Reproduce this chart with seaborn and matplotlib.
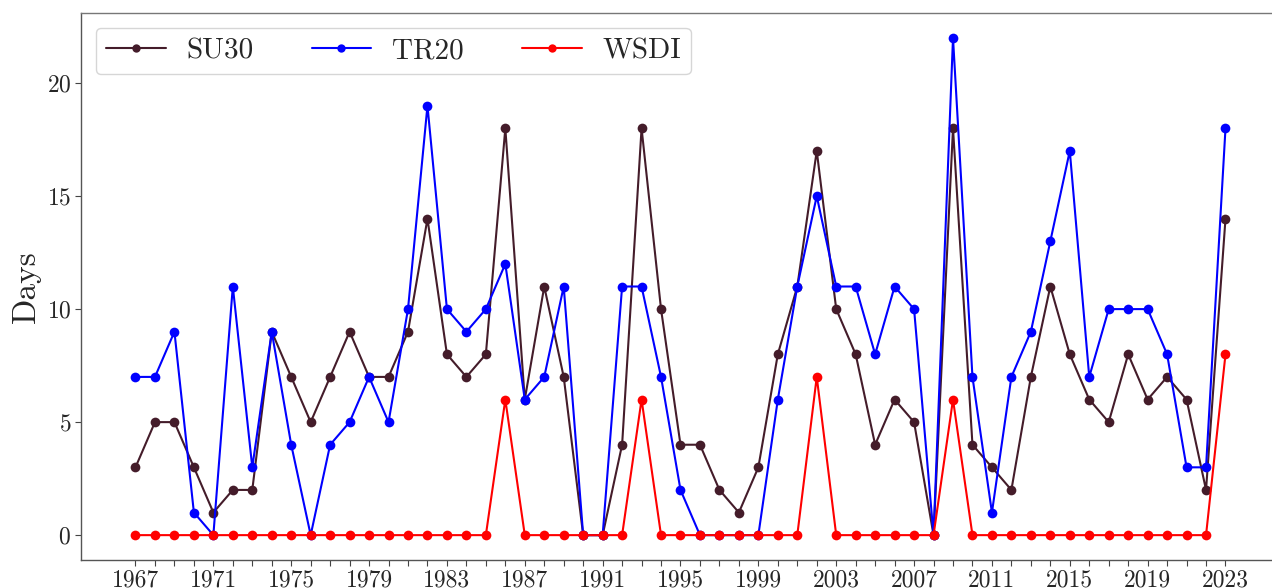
import numpy as np
import pandas as pd
import matplotlib
matplotlib.use("Agg")
import matplotlib.pyplot as plt
import seaborn as sns

years = list(range(1967, 2024))
su30 = [3, 5, 5, 3, 1, 2, 2, 9, 7, 5, 7, 9, 7, 7, 9, 14, 8, 7, 8, 18,
        6, 11, 7, 0, 0, 4, 18, 10, 4, 4, 2, 1, 3, 8, 11, 17, 10, 8, 4, 6,
        5, 0, 18, 4, 3, 2, 7, 11, 8, 6, 5, 8, 6, 7, 6, 2, 14]
tr20 = [7, 7, 9, 1, 0, 11, 3, 9, 4, 0, 4, 5, 7, 5, 10, 19, 10, 9, 10, 12,
        6, 7, 11, 0, 0, 11, 11, 7, 2, 0, 0, 0, 0, 6, 11, 15, 11, 11, 8, 11,
        10, 0, 22, 7, 1, 7, 9, 13, 17, 7, 10, 10, 10, 8, 3, 3, 18]
wsdi = [0] * 57
for y, v in [(1986, 6), (1993, 6), (2002, 7), (2009, 6), (2023, 8)]:
    wsdi[years.index(y)] = v

series_names = ["SU30", "TR20", "WSDI"]
colors = ["#441c2a", "#0000ff", "#ff0000"]

df = pd.DataFrame({
    "Year": years * 3,
    "Days": su30 + tr20 + wsdi,
    "Index": sum([[n] * len(years) for n in series_names], []),
})

sns.set_style("ticks")
plt.rcParams["font.family"] = ["cmr10", "DejaVu Serif"]
plt.rcParams["axes.formatter.use_mathtext"] = True
plt.rcParams["mathtext.fontset"] = "cm"

W, H = 1272, 588
fig = plt.figure(figsize=(W / 100, H / 100), dpi=100)
left, right, top, bottom = 81, 1280, 13, 560
ax = fig.add_axes([left / W, (H - bottom) / H, (right - left) / W, (bottom - top) / H])

sns.lineplot(data=df, x="Year", y="Days", hue="Index", palette=colors,
             marker="o", markersize=7, markeredgewidth=0, linewidth=1.5,
             ax=ax)

ax.set_xlim(1964.2, 2025.8)
ax.set_ylim(-1.1, 23.1)
ax.set_xticks(years)
ax.set_xticklabels([str(y) if (y - 1967) % 4 == 0 else "" for y in years])
ax.set_yticks([0, 5, 10, 15, 20])
ax.tick_params(axis="both", labelsize=17, length=4, width=0.8,
               color="#444444", pad=3)
ax.set_xlabel("")
ax.set_ylabel("Days", fontsize=24, labelpad=4)
for s in ax.spines.values():
    s.set_color("#555555")
    s.set_linewidth(1.0)
ax.spines["top"].set_color("#777777")

leg = ax.legend(loc="upper left", ncol=3, fontsize=21, frameon=True,
                handlelength=2.05, columnspacing=2.0, borderpad=0.35,
                handletextpad=0.7, borderaxespad=0.5,
                bbox_to_anchor=(0.0, 1.0))
leg.get_frame().set_edgecolor("#cccccc")
for h in leg.legend_handles:
    h.set_markersize(6)

fig.savefig("out.png", dpi=100)
